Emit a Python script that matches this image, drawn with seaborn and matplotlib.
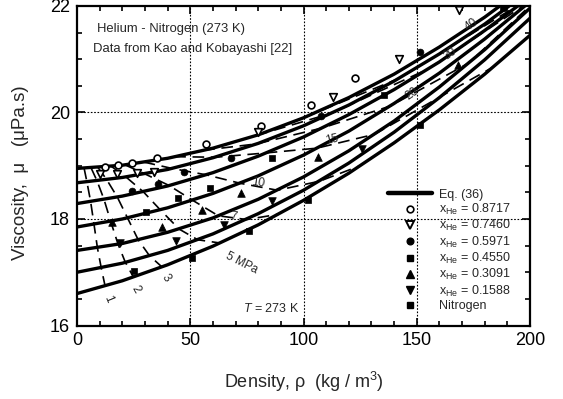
import numpy as np
import pandas as pd
import matplotlib
matplotlib.use("Agg")
import matplotlib.pyplot as plt
import seaborn as sns
from matplotlib.lines import Line2D
from matplotlib.ticker import MultipleLocator

# ---------------- data ----------------
rho_grid = [0, 20, 40, 60, 80, 100, 120, 140, 160, 180, 200]

eq_0_8717 = [18.95, 19.01, 19.14, 19.33, 19.58, 19.90, 20.28, 20.72, 21.23, 21.79, 22.42]
eq_0_7460 = [18.68, 18.78, 18.93, 19.15, 19.42, 19.75, 20.14, 20.59, 21.10, 21.66, 22.29]
eq_0_5971 = [18.29, 18.43, 18.62, 18.87, 19.18, 19.54, 19.96, 20.43, 20.95, 21.54, 22.17]
eq_0_4550 = [17.85, 18.00, 18.21, 18.48, 18.81, 19.20, 19.65, 20.17, 20.74, 21.38, 22.08]
eq_0_3091 = [17.41, 17.54, 17.75, 18.02, 18.37, 18.79, 19.28, 19.84, 20.48, 21.18, 21.96]
eq_0_1588 = [17.00, 17.17, 17.41, 17.72, 18.10, 18.54, 19.05, 19.63, 20.28, 20.99, 21.77]
eq_n2     = [16.60, 16.84, 17.14, 17.49, 17.89, 18.35, 18.86, 19.43, 20.05, 20.72, 21.45]

# isobars (MPa): density and viscosity on each composition curve
iso_labels = ["1", "2", "3", "5 MPa", "7", "10", "15", "20", "30", "40"]
iso_rho = [
    [3.1, 4.4, 6.0, 7.5, 9.0, 10.7, 12.4],
    [6.2, 8.8, 11.9, 14.9, 18.1, 21.3, 24.9],
    [9.2, 13.1, 17.8, 22.3, 27.0, 32.0, 37.5],
    [15.1, 21.6, 29.3, 36.8, 45.1, 53.3, 63.0],
    [21.0, 29.8, 40.6, 51.1, 62.4, 74.9, 89.1],
    [29.4, 41.9, 57.0, 72.1, 88.5, 107.1, 125.0],
    [42.9, 61.1, 83.3, 105.9, 131.3, 161.0, 184.0],
    [55.7, 79.2, 108.3, 138.3, 173.0, 215.0],
    [79.3, 112.6, 154.7, 199.4],
    [100.6, 142.7, 196.8],
]
iso_mu = [
    [18.96, 18.69, 18.33, 17.90, 17.46, 17.08, 16.74],
    [18.96, 18.72, 18.37, 17.95, 17.53, 17.19, 16.91],
    [18.97, 18.74, 18.41, 18.02, 17.61, 17.31, 17.10],
    [18.99, 18.79, 18.51, 18.17, 17.81, 17.61, 17.55],
    [19.02, 18.85, 18.63, 18.35, 18.06, 17.99, 18.09],
    [19.07, 18.95, 18.83, 18.67, 18.54, 18.71, 19.00],
    [19.17, 19.16, 19.24, 19.33, 19.59, 20.31, 20.86],
    [19.29, 19.41, 19.71, 20.12, 20.93, 22.60],
    [19.57, 19.99, 20.81, 22.07],
    [19.91, 20.65, 22.07],
]
iso_lab_x = [13.5, 26.0, 39.3, 72.5, 69.0, 80.0, 112.4, 147.8, 164.7, 174.2]
iso_lab_y = [16.50, 16.68, 16.90, 17.18, 18.05, 18.67, 19.48, 20.36, 21.11, 21.64]
iso_lab_rot = [-68, -60, -55, -27, -12, -8, 12, 35, 35, 35]

# measurements (Kao and Kobayashi)
d_0_8717_x = [12.4, 18.3, 24.1, 35.4, 56.8, 81.2, 103.2, 122.7]
d_0_8717_y = [18.98, 19.01, 19.05, 19.15, 19.40, 19.74, 20.14, 20.64]
d_0_7460_x = [10.2, 17.5, 26.6, 34.1, 80.0, 112.9, 142.2, 168.7]
d_0_7460_y = [18.84, 18.85, 18.86, 18.88, 19.64, 20.29, 21.00, 21.92]
d_0_5971_x = [24.1, 35.6, 47.2, 67.9, 107.6, 151.4]
d_0_5971_y = [18.52, 18.65, 18.88, 19.14, 19.93, 21.14]
d_0_4550_x = [30.5, 44.7, 58.7, 86.2, 135.7, 188.0]
d_0_4550_y = [18.13, 18.40, 18.58, 19.14, 20.33, 21.97]
d_0_3091_x = [15.3, 37.4, 55.0, 72.3, 106.5, 168.3]
d_0_3091_y = [17.94, 17.85, 18.16, 18.48, 19.17, 20.89]
d_0_1588_x = [19.0, 43.7, 64.9, 86.0, 125.7]
d_0_1588_y = [17.54, 17.59, 17.89, 18.33, 19.32]
d_n2_x = [25.2, 50.6, 75.9, 102.1, 151.4]
d_n2_y = [17.02, 17.27, 17.77, 18.35, 19.76]

legend_labels = ["Eq. (36)", "x$_{\\rm He}$ = 0.8717", "x$_{\\rm He}$ = 0.7460",
                 "x$_{\\rm He}$ = 0.5971", "x$_{\\rm He}$ = 0.4550",
                 "x$_{\\rm He}$ = 0.3091", "x$_{\\rm He}$ = 0.1588", "Nitrogen"]

# ---------------- styling ----------------
sns.set_style("ticks")
plt.rcParams['font.family'] = ['Liberation Sans', 'DejaVu Sans']
plt.rcParams['mathtext.fontset'] = 'custom'
plt.rcParams['mathtext.rm'] = 'Liberation Sans'
plt.rcParams['mathtext.it'] = 'Liberation Sans:italic'
plt.rcParams['mathtext.bf'] = 'Liberation Sans:bold'

fig = plt.figure(figsize=(5.63, 3.99), dpi=100)
ax = fig.add_axes([0.1368, 0.1842, 0.8046, 0.8008])

# grid (dotted)
for gx in [50, 100, 150]:
    ax.axvline(gx, color='k', lw=0.8, ls=(0, (1.5, 1.5)), zorder=1)
for gy in [18, 20]:
    ax.axhline(gy, color='k', lw=0.8, ls=(0, (1.5, 1.5)), zorder=1)

# model curves
for curve in [eq_0_8717, eq_0_7460, eq_0_5971, eq_0_4550, eq_0_3091, eq_0_1588, eq_n2]:
    sns.lineplot(x=rho_grid, y=curve, ax=ax, color='k', lw=2.4, sort=False,
                 estimator=None, zorder=3)

# isobars
for r, m in zip(iso_rho, iso_mu):
    sns.lineplot(x=r, y=m, ax=ax, color='k', lw=1.2, sort=False, estimator=None,
                 linestyle=(0, (7, 4)), zorder=2)
for lab, lx, ly, rot in zip(iso_labels, iso_lab_x, iso_lab_y, iso_lab_rot):
    ax.text(lx, ly, lab, fontsize=8.5, rotation=rot, ha='center', va='center',
            rotation_mode='anchor', zorder=6)

# data
ms = 24
sns.scatterplot(x=d_0_8717_x, y=d_0_8717_y, ax=ax, marker='o', s=ms, color='white',
                edgecolor='k', linewidth=1.2, zorder=5)
sns.scatterplot(x=d_0_7460_x, y=d_0_7460_y, ax=ax, marker='v', s=ms + 6, color='white',
                edgecolor='k', linewidth=1.2, zorder=5)
sns.scatterplot(x=d_0_5971_x, y=d_0_5971_y, ax=ax, marker='o', s=ms, color='k',
                edgecolor='k', linewidth=0.5, zorder=5)
sns.scatterplot(x=d_0_4550_x, y=d_0_4550_y, ax=ax, marker='s', s=ms, color='k',
                edgecolor='k', linewidth=0.5, zorder=5)
sns.scatterplot(x=d_0_3091_x, y=d_0_3091_y, ax=ax, marker='^', s=ms + 6, color='k',
                edgecolor='k', linewidth=0.5, zorder=5)
sns.scatterplot(x=d_0_1588_x, y=d_0_1588_y, ax=ax, marker='v', s=ms + 6, color='k',
                edgecolor='k', linewidth=0.5, zorder=5)
sns.scatterplot(x=d_n2_x, y=d_n2_y, ax=ax, marker='s', s=ms - 6, color='k',
                edgecolor='k', linewidth=0.5, zorder=5)

# legend
handles = [
    Line2D([], [], color='k', lw=3.2),
    Line2D([], [], ls='none', marker='o', ms=4.8, mfc='white', mec='k', mew=1.2),
    Line2D([], [], ls='none', marker='v', ms=5.2, mfc='white', mec='k', mew=1.4),
    Line2D([], [], ls='none', marker='o', ms=4.8, mfc='k', mec='k'),
    Line2D([], [], ls='none', marker='s', ms=4.6, mfc='k', mec='k'),
    Line2D([], [], ls='none', marker='^', ms=5.2, mfc='k', mec='k'),
    Line2D([], [], ls='none', marker='v', ms=5.2, mfc='k', mec='k'),
    Line2D([], [], ls='none', marker='s', ms=4.0, mfc='k', mec='k'),
]
ax.legend(handles, legend_labels, loc='upper left', bbox_to_anchor=(0.687, 0.428),
          frameon=False, fontsize=9, handlelength=3.5, handletextpad=0.6,
          labelspacing=0.1, borderaxespad=0, borderpad=0)

# annotations
ax.text(8.7, 21.56, "Helium - Nitrogen (273 K)", fontsize=9.4, ha='left', va='center')
ax.text(6.9, 21.19, "Data from Kao and Kobayashi [22]", fontsize=9.4, ha='left', va='center')
ax.text(73.3, 16.32, "$T$ = 273 K", fontsize=9, ha='left', va='center')

# axes
ax.set_xlim(0, 200)
ax.set_ylim(16, 22)
ax.xaxis.set_major_locator(MultipleLocator(50))
ax.xaxis.set_minor_locator(MultipleLocator(10))
ax.yaxis.set_major_locator(MultipleLocator(2))
ax.yaxis.set_minor_locator(MultipleLocator(0.5))
ax.tick_params(which='both', direction='in', top=True, right=True, width=1.2,
               labelsize=13, color='k', labelcolor='k')
ax.tick_params(which='major', length=6, pad=5)
ax.tick_params(which='minor', length=3.5)
for sp in ax.spines.values():
    sp.set_linewidth(1.6)
    sp.set_color('k')
    sp.set_visible(True)
ax.set_xlabel("Density, ρ  (kg / m$^{3}$)", fontsize=13, labelpad=15)
ax.set_ylabel("Viscosity,  μ   (μPa.s)", fontsize=13.5)
ax.yaxis.set_label_coords(-0.106, 0.477)

fig.savefig("out.png", dpi=100)
